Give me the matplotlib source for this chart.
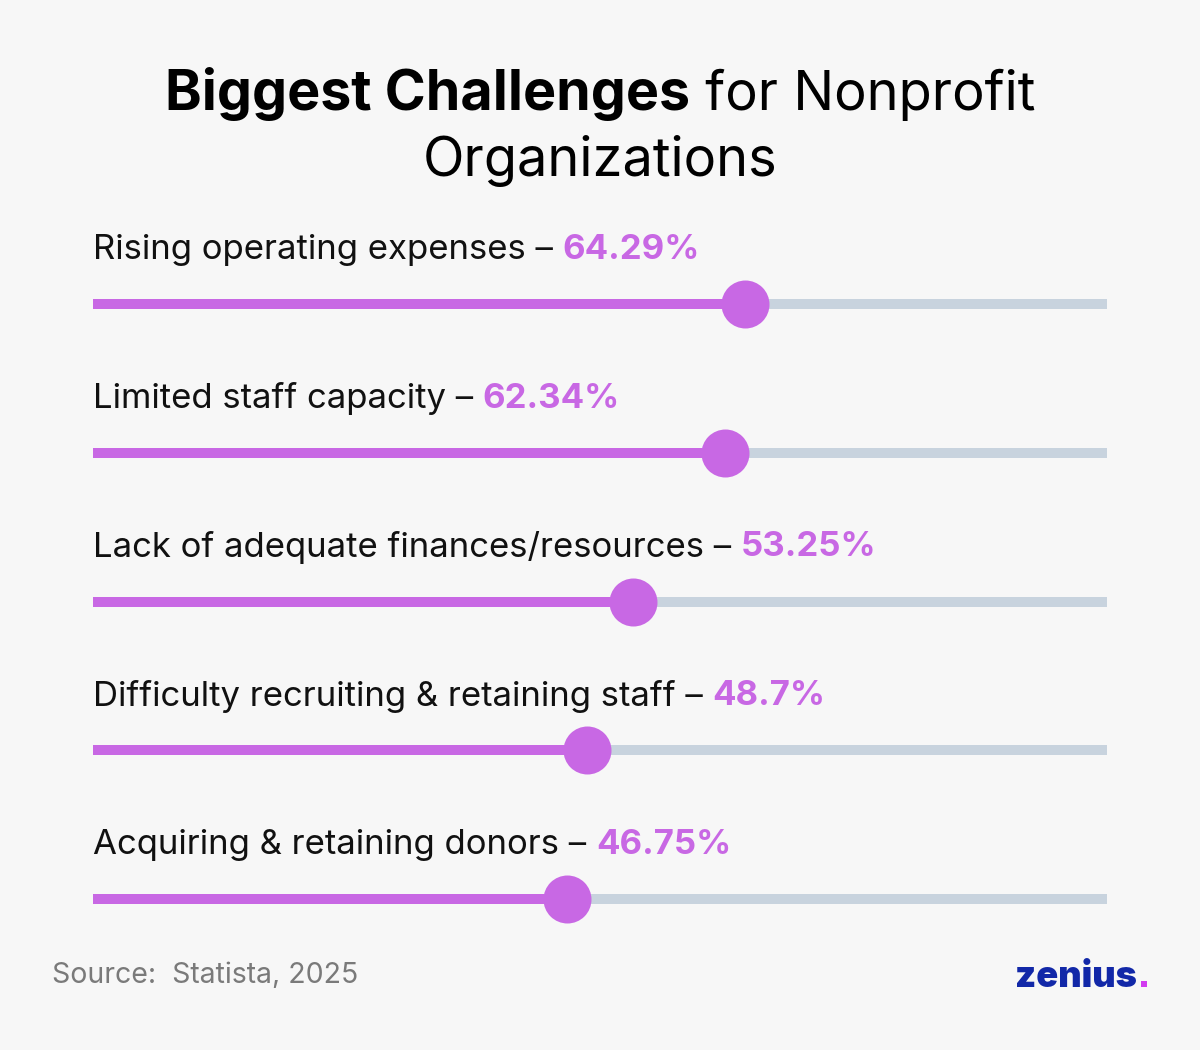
import matplotlib
matplotlib.use('Agg')
import matplotlib.pyplot as plt
from matplotlib.patches import Rectangle

categories = ["Rising operating expenses", "Limited staff capacity",
              "Lack of adequate finances/resources",
              "Difficulty recruiting & retaining staff",
              "Acquiring & retaining donors"]
values = [64.29, 62.34, 53.25, 48.7, 46.75]
value_labels = ["64.29%", "62.34%", "53.25%", "48.7%", "46.75%"]

BG = '#F7F7F7'
PURPLE = '#C868E4'
TRACK = '#C8D3DE'
FONT = 'Inter'

W, H = 1200, 1050
fig = plt.figure(figsize=(12, 10.5), dpi=100, facecolor=BG)
ax = fig.add_axes([93 / W, 100 / H, 1014 / W, 750 / H])
ax.set_xlim(0, 100)
step = 148.75
ax.set_ylim((950 - 304) / step, -(304 - 200) / step)
ax.axis('off')

for i, (cat, v, vl) in enumerate(zip(categories, values, value_labels)):
    ax.plot([0, 100], [i, i], color=TRACK, lw=7.2, solid_capstyle='butt', zorder=1)
    ax.plot([0, v], [i, i], color=PURPLE, lw=7.2, solid_capstyle='butt', zorder=2)
    ax.scatter([v], [i], s=1194, color=PURPLE, zorder=3, linewidths=0)
    t = ax.text(0, i - 54 / step, cat + " – ", fontsize=25, family=FONT,
                va='center', ha='left', color='#111111')
    ax.annotate(vl, xy=(1, 0.5), xycoords=t, va='center', ha='left',
                fontsize=25, family=FONT, weight='bold', color=PURPLE)

# Title
t1 = fig.text(0, 1 - 110 / H, "Biggest Challenges", fontsize=40, family=FONT,
              weight='bold', va='baseline', ha='left', color='#000000')
t2 = fig.text(0, 1 - 110 / H, " for Nonprofit", fontsize=39, family=FONT,
              va='baseline', ha='left', color='#000000')
fig.text(0.5, 1 - 176 / H, "Organizations", fontsize=39, family=FONT,
         va='baseline', ha='center', color='#000000')
r = fig.canvas.get_renderer()
w1 = t1.get_window_extent(r).width
w2 = t2.get_window_extent(r).width
x0 = (W - (w1 + w2)) / 2
t1.set_x(x0 / W)
t2.set_x((x0 + w1) / W)

# Source
fig.text(52 / W, 1 - 983 / H, "Source:  Statista, 2025", fontsize=20.5, family=FONT,
         va='baseline', ha='left', color='#7A7A7A')

# Logo
fig.text(1137 / W, 1 - 987 / H, "zenius", fontsize=26, family=FONT, weight='black',
         va='baseline', ha='right', color='#1228A8')
fig.add_artist(Rectangle((1141 / W, 1 - 987 / H), 6 / W, 6 / H,
                         transform=fig.transFigure, color='#D23BF0', lw=0))

fig.savefig('out.png', dpi=100, facecolor=BG)
